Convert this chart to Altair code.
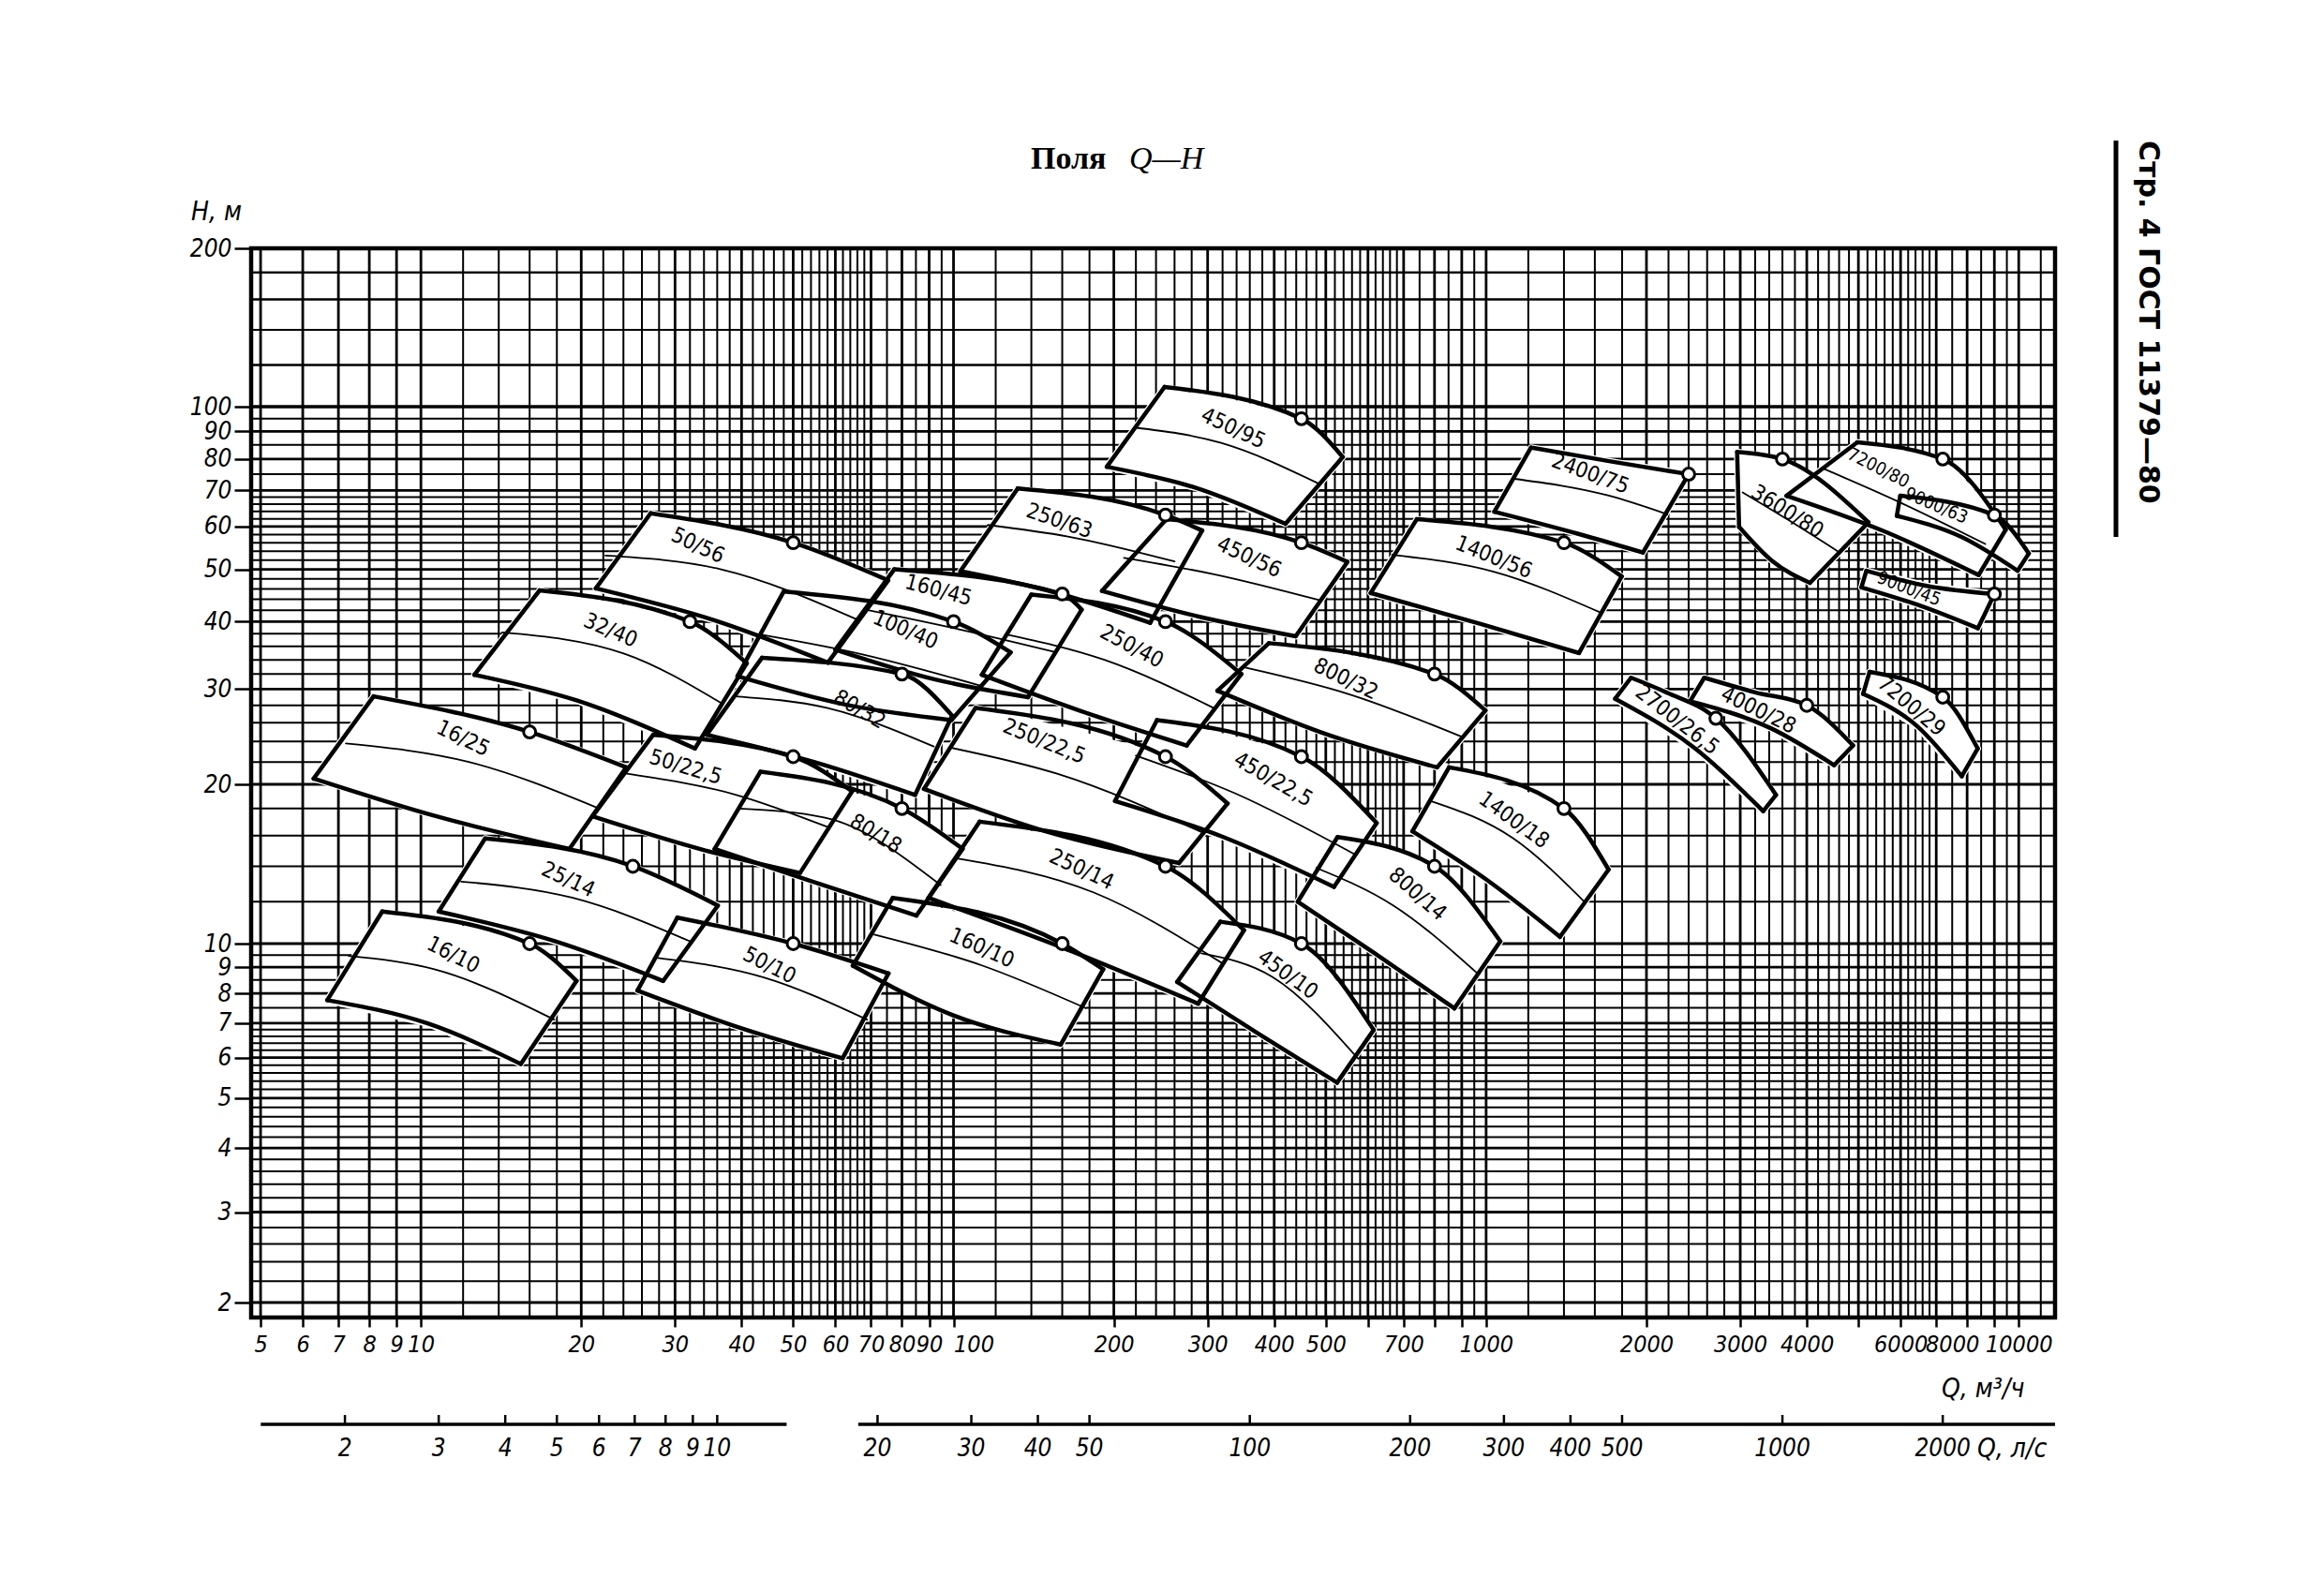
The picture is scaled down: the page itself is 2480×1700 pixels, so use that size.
import altair as alt
import pandas as pd

# ---------------------------------------------------------------- data
FIELDS = ["16/10", "25/14", "16/25", "32/40", "50/56", "250/63", "450/95", "450/56",
          "1400/56", "2400/75", "800/32", "1400/18", "800/14", "450/10", "250/14",
          "160/10", "50/10", "50/22,5", "80/18", "80/32", "250/22,5", "450/22,5",
          "100/40", "160/45", "250/40", "3600/80", "7200/80", "9000/63", "9000/45",
          "7200/29", "4000/28", "2700/26,5"]

# nominal (rated) points Q, m3/h and H, m  -> small circles
NOMINAL_Q = [16, 25, 16, 32, 50, 250, 450, 450, 1400, 2400, 800, 1400, 800, 450, 250,
             160, 50, 50, 80, 80, 250, 450, 100, 160, 250, 3600, 7200, 9000, 9000,
             7200, 4000, 2700]
NOMINAL_H = [10, 14, 25, 40, 56, 63, 95, 56, 56, 75, 32, 18, 14, 10, 14,
             10, 10, 22.5, 18, 32, 22.5, 22.5, 40, 45, 40, 80, 80, 63, 45,
             29, 28, 26.5]

# upper boundary (largest impeller) of each field, (Q, H)
TOP = [
    [(8.46, 11.5), (16, 10), (19.6, 8.46)],
    [(13.2, 15.8), (25, 14), (36.1, 11.8)],
    [(8.15, 29.1), (16, 25), (24.3, 21.5)],
    [(16.7, 45.7), (32, 40), (40.9, 33.5)],
    [(27.0, 63.5), (50, 56), (75.4, 47.7)],
    [(132, 70.6), (250, 63), (293, 59.0)],
    [(249, 109), (450, 95), (538, 80.7)],
    [(251, 61.9), (450, 56), (549, 51.6)],
    [(741, 61.9), (1400, 56), (1797, 48.5)],
    [(1214, 84.0), (1712, 79.2), (2400, 75)],
    [(391, 36.5), (800, 32), (997, 27.4)],
    [(852, 21.5), (1400, 18), (1698, 13.8)],
    [(526, 15.9), (800, 14), (1063, 10.1)],
    [(317, 11.0), (450, 10), (615, 6.79)],
    [(112, 17.0), (250, 14), (351, 10.6)],
    [(76.9, 12.2), (160, 10), (191, 8.91)],
    [(30.3, 11.2), (50, 10), (75.5, 8.75)],
    [(27.3, 24.7), (50, 22.5), (64.5, 19.4)],
    [(43.4, 21.1), (80, 18), (104, 15.1)],
    [(43.7, 34.3), (80, 32), (99.4, 26.8)],
    [(110, 27.7), (250, 22.5), (327, 18.4)],
    [(241, 26.3), (450, 22.5), (623, 16.9)],
    [(48.0, 45.5), (100, 40), (128, 35.1)],
    [(77.4, 50.0), (160, 45), (174, 42.1)],
    [(140, 44.9), (250, 40), (347, 32.0)],
    [(2960, 82.5), (3600, 80), (5222, 61.1)],
    [(4977, 85.9), (7200, 80), (9452, 59.2)],
    [(5992, 68.4), (9000, 63), (10445, 53.5)],
    [(5175, 49.7), (6718, 46.6), (9000, 45)],
    [(5248, 32.3), (7200, 29), (8375, 23.3)],
    [(2568, 31.5), (3199, 29.6), (4000, 28), (4886, 23.6)],
    [(1871, 31.5), (2179, 29.6), (2700, 26.5), (3501, 19.1)],
]

# lower boundary (most trimmed impeller)
BOTTOM = [
    [(6.67, 7.76), (10.3, 6.99), (15.4, 5.83)],
    [(10.8, 11.5), (17.9, 10.1), (28.5, 8.46)],
    [(6.29, 20.5), (10.7, 17.4), (19.0, 15.1)],
    [(12.6, 31.9), (19.6, 28.6), (32.7, 23.3)],
    [(21.3, 46.1), (35.4, 40.3), (58.1, 33.6)],
    [(103, 49.6), (155, 45.3), (234, 39.8)],
    [(194, 77.4), (286, 70.7), (420, 60.7)],
    [(190, 45.6), (291, 40.8), (439, 37.6)],
    [(607, 45.2), (977, 39.6), (1494, 35.0)],
    [(1036, 63.9), (1485, 58.2), (1970, 53.7)],
    [(313, 29.8), (499, 24.8), (809, 21.5)],
    [(727, 16.3), (1013, 13.1), (1376, 10.3)],
    [(443, 12.0), (618, 9.57), (872, 7.48)],
    [(263, 8.42), (376, 6.65), (525, 5.36)],
    [(89.7, 12.2), (161, 9.80), (288, 7.64)],
    [(64.7, 9.06), (99.2, 7.27), (159, 6.36)],
    [(25.5, 8.10), (39.5, 6.87), (61.9, 5.98)],
    [(21.0, 17.4), (34.2, 15.0), (51.5, 13.6)],
    [(35.6, 15.1), (54.4, 13.1), (85.2, 11.3)],
    [(34.4, 24.7), (54.7, 22.0), (84.7, 19.1)],
    [(88.0, 19.6), (152, 16.2), (265, 14.2)],
    [(201, 18.6), (321, 15.9), (518, 12.8)],
    [(39.3, 31.7), (62.6, 28.1), (99.1, 26.3)],
    [(60.0, 35.5), (92.0, 31.3), (138, 29.0)],
    [(113, 31.9), (174, 27.3), (274, 23.6)],
    [(2985, 59.9), (3437, 51.9), (4055, 47.2)],
    [(3664, 68.4), (5564, 58.9), (8408, 48.8)],
    [(5904, 62.8), (7808, 57.4), (9954, 49.7)],
    [(5066, 46.3), (6497, 42.9), (8381, 38.9)],
    [(5102, 29.4), (6451, 25.6), (7816, 20.7)],
    [(2414, 28.5), (3423, 25.4), (4501, 21.7)],
    [(1747, 28.8), (2469, 23.3), (3313, 17.8)],
]

# intermediate impeller curve (thin line), empty where there is none
MIDDLE = [
    [(7.32, 9.46), (10.6, 8.91), (17.8, 7.11)],
    [(11.9, 13.1), (19.3, 12.2), (32.3, 10.06)],
    [(7.23, 23.8), (12.3, 22.0), (21.6, 18.0)],
    [(14.2, 38.2), (24.1, 34.9), (36.8, 28.2)],
    [(22.2, 53.0), (36.6, 50.0), (66.2, 40.3)],
    [(116, 60.4), (164, 57.5), (260, 51.7)],
    [(219, 91.5), (318, 85.7), (484, 72.1)],
    [(209, 52.5), (307, 49.0), (488, 43.8)],
    [(666, 53.2), (1033, 49.5), (1639, 41.6)],
    [(1121, 73.6), (1693, 68.5), (2189, 63.2)],
    [(353, 32.9), (551, 29.4), (899, 24.5)],
    [(787, 18.6), (1125, 15.8), (1529, 12.0)],
    [(480, 13.9), (670, 11.8), (969, 8.70)],
    [(292, 9.57), (398, 8.60), (575, 5.97)],
    [(101, 14.5), (183, 12.5), (319, 9.17)],
    [(71.0, 10.4), (113, 9.07), (177, 7.49)],
    [(27.7, 9.38), (43.9, 8.60), (68.8, 7.11)],
    [(23.9, 21.0), (39.1, 19.1), (58.1, 16.6)],
    [(39.5, 18.0), (57.4, 17.3), (94.6, 12.9)],
    [(38.8, 29.1), (57.8, 27.7), (91.8, 23.5)],
    [(98.3, 23.4), (157, 20.9), (294, 16.2)],
    [(220, 22.6), (339, 19.2), (570, 14.7)],
    [(43.1, 37.9), (64.8, 35.1), (113, 30.4)],
    [(68.4, 42.1), (101.5, 38.8), (156, 35.1)],
    [(125, 37.9), (192, 34.0), (310, 27.6)],
    [(3031, 69.4), (3673, 61.9), (4585, 53.9)],
    [(4310, 76.7), (5946, 66.7), (8653, 55.7)],
    [], [], [], [], [],
]

LABEL_Q = [11.5, 18.9, 12.0, 22.7, 33.1, 158, 335, 359, 1033, 1569, 545, 1127, 743, 424,
           174, 113, 45.1, 31.4, 71.4, 66.6, 148, 398, 81.2, 93.7, 216, 3675, 5450, 7000,
           6222, 6285, 3244, 2284]
LABEL_H = [9.5, 13.2, 24.3, 38.5, 55.3, 61.4, 91.1, 52.6, 52.6, 75.1, 31.3, 17.1, 12.4, 8.70,
           13.8, 9.8, 9.06, 21.5, 16.1, 27.5, 24.0, 20.4, 38.6, 45.7, 36.0, 63.9, 77.0, 65.6,
           46.0, 27.9, 27.4, 26.3]
LABEL_ANGLE = [27, 25, 26, 23, 25, 19, 25, 25, 22, 20, 26, 36, 41, 36, 25, 24, 27, 17, 31,
               30, 22, 30, 23, 15, 28, 32, 27, 23, 21, 40, 26, 38]
SMALL_LABELS = ["7200/80", "9000/63", "9000/45"]

# axes
X_TICKS = [5, 6, 7, 8, 9, 10, 20, 30, 40, 50, 60, 70, 80, 90, 100, 200, 300, 400, 500, 600,
           700, 800, 900, 1000, 2000, 3000, 4000, 5000, 6000, 7000, 8000, 9000, 10000]
X_LABELS = [5, 6, 7, 8, 9, 10, 20, 30, 40, 50, 60, 70, 80, 90, 100, 200, 300, 400, 500,
            700, 1000, 2000, 3000, 4000, 6000, 8000, 10000]
Y_TICKS = [2, 3, 4, 5, 6, 7, 8, 9, 10, 20, 30, 40, 50, 60, 70, 80, 90, 100, 200]

# secondary flow scale in l/s
LS_TICKS = [2, 3, 4, 5, 6, 7, 8, 9, 10, 20, 30, 40, 50, 100, 200, 300, 400, 500, 1000, 2000]
LS_SEGMENTS = [(1.39, 13.5), (18.4, 3250)]
M3H_PER_LS = 3.6


# ---------------------------------------------------------------- grid of the log paper
def steps(a, b, s):
    out, v = [], a
    while v < b - 1e-9:
        out.append(round(v, 3))
        v += s
    return out


X_GRID = [5, 6, 7, 8, 9]
for d in (1, 10, 100):
    X_GRID += [round(v * d, 3) for v in steps(10, 20, 2) + steps(20, 70, 2) + steps(70, 100, 5)]
X_GRID += [10000, 11000]
Y_GRID = []
for d in (1, 10):
    Y_GRID += [round(v * d, 3) for v in steps(2, 7, 0.2) + steps(7, 10, 0.5) + steps(10, 20, 2)]
Y_GRID += [100, 120, 140, 160, 180, 200]


def is_major(v):
    for d in (1, 10, 100, 1000, 10000):
        r = v / d
        if 1 <= r < 10 and abs(r - round(r)) < 1e-6:
            return True
    return False


gx = pd.DataFrame({"Q": X_GRID, "w": [2.8 if is_major(v) else 2.0 for v in X_GRID]})
gy = pd.DataFrame({"H": Y_GRID, "w": [2.8 if is_major(v) else 2.0 for v in Y_GRID]})

# ---------------------------------------------------------------- field tables
fill_rows, line_rows = [], []
for i, name in enumerate(FIELDS):
    top, bot, mid = TOP[i], BOTTOM[i], MIDDLE[i]
    for k, (q, h) in enumerate(top + bot[::-1]):
        fill_rows.append({"fid": name, "k": k, "Q": q, "H": h})
    segs = [("top", top, 4.5), ("bot", bot, 4.5),
            ("left", [top[0], bot[0]], 4.5), ("right", [top[-1], bot[-1]], 4.5)]
    if mid:
        segs.append(("mid", mid, 1.8))
    for part, pts, w in segs:
        for k, (q, h) in enumerate(pts):
            line_rows.append({"seg": f"{name}|{part}", "k": k, "Q": q, "H": h, "w": w})
fills = pd.DataFrame(fill_rows)
lines = pd.DataFrame(line_rows)
nominal = pd.DataFrame({"Q": NOMINAL_Q, "H": NOMINAL_H})
labels = pd.DataFrame({"Q": LABEL_Q, "H": LABEL_H, "t": FIELDS, "a": LABEL_ANGLE,
                       "fs": [19 if f in SMALL_LABELS else 23 for f in FIELDS]})

ls_seg = pd.DataFrame({"Q": [a * M3H_PER_LS for a, b in LS_SEGMENTS],
                       "Q2": [b * M3H_PER_LS for a, b in LS_SEGMENTS]})
ls_tick = pd.DataFrame({"Q": [v * M3H_PER_LS for v in LS_TICKS], "t": [str(v) for v in LS_TICKS]})

# ---------------------------------------------------------------- chart
W, H = 1925, 1141
FONT = "Liberation Sans Narrow, DejaVu Sans Condensed, Roboto Condensed, DejaVu Sans, sans-serif"
XS = alt.Scale(type="log", domain=[4.8, 11700], nice=False)
# the printed log paper is not quite uniform: piecewise log scale pinned at the printed decades
YS = alt.Scale(type="log", domain=[1.88, 2, 10, 20, 100, 200],
               range=[1141, 1125, 742, 572, 169, 0], nice=False)
lab_list = ",".join(str(v) for v in X_LABELS)
XAX = alt.Axis(values=X_TICKS, format="d", title=None, grid=False, domain=False,
               labelExpr=f"indexof([{lab_list}], datum.value) >= 0 ? datum.label : ''",
               labelAlign=alt.condition("datum.value == 100", alt.value("left"), alt.value("center")),
               labelOffset=alt.condition("datum.value == 8000", alt.value(-16), alt.value(0)),
               tickSize=10, tickWidth=2.5, tickColor="black", labelPadding=6,
               labelFont=FONT, labelFontSize=25, labelFontStyle="italic", labelColor="black",
               labelOverlap=False, labelFlush=False)
YAX = alt.Axis(values=Y_TICKS, format="d", title=None, grid=False, domain=False,
               tickSize=18, tickWidth=2.5, tickColor="black", labelPadding=3,
               labelFont=FONT, labelFontSize=26, labelFontStyle="italic", labelColor="black",
               labelOverlap=False, labelFlush=False)
X = alt.X("Q:Q", scale=XS, axis=XAX)
Y = alt.Y("H:Q", scale=YS, axis=YAX)

grid_v = alt.Chart(gx).mark_rule(color="black").encode(
    x=X, strokeWidth=alt.StrokeWidth("w:Q", scale=None))
grid_h = alt.Chart(gy).mark_rule(color="black").encode(
    y=Y, strokeWidth=alt.StrokeWidth("w:Q", scale=None))

field_fill = alt.Chart(fills).mark_line(
    interpolate="linear-closed", filled=True, color="white", fill="white",
    stroke="white", strokeWidth=7, strokeJoin="round").encode(
    x=X, y=Y, detail="fid:N", order="k:Q")

field_lines = alt.Chart(lines).mark_line(
    interpolate="monotone", color="black", strokeCap="round", strokeJoin="round").encode(
    x=X, y=Y, detail="seg:N", order="k:Q", strokeWidth=alt.StrokeWidth("w:Q", scale=None))

points = alt.Chart(nominal).mark_point(
    shape="circle", filled=True, fill="white", stroke="black", strokeWidth=3,
    size=165, opacity=1).encode(x=X, y=Y)

field_text = alt.Chart(labels).mark_text(
    font=FONT, align="center", baseline="middle", color="black").encode(
    x=X, y=Y, text="t:N", angle=alt.Angle("a:Q", scale=None),
    size=alt.Size("fs:Q", scale=None))

# secondary (l/s) scale below the chart
ls_line = alt.Chart(ls_seg).mark_rule(color="black", strokeWidth=3.5).encode(
    x=X, x2="Q2:Q", y=alt.value(1255))
ls_ticks = alt.Chart(ls_tick).mark_rule(color="black", strokeWidth=2.5).encode(
    x=X, y=alt.value(1245), y2=alt.value(1255))
ls_text = alt.Chart(ls_tick).mark_text(
    font=FONT, fontSize=26, fontStyle="italic", baseline="middle", color="black").encode(
    x=X, y=alt.value(1281), text="t:N")


def note(txt, x, y, **kw):
    return alt.Chart(pd.DataFrame({"t": [txt]})).mark_text(color="black", **kw).encode(
        x=alt.value(x), y=alt.value(y), text="t:N")


t_q_m3 = note("Q, м³/ч", 1804, 1218, font=FONT, fontSize=28, fontStyle="italic",
              align="left", baseline="middle")
t_q_ls = note("Q, л/с", 1842, 1282, font=FONT, fontSize=28, fontStyle="italic",
              align="left", baseline="middle")
t_h = note("H, м", -64, -30, font=FONT, fontSize=28, fontStyle="italic", align="left",
           baseline="alphabetic")
t_title1 = note("Поля", 832, -85, font="Liberation Serif, DejaVu Serif, serif", fontSize=34,
                fontWeight="bold", align="left", baseline="alphabetic")
t_title2 = note("Q—H", 937, -85, font="Liberation Serif, DejaVu Serif, serif", fontSize=34,
                fontStyle="italic", align="left", baseline="alphabetic")
t_side = note("Стр. 4 ГОСТ 11379—80", 2024, -115, font="DejaVu Sans, Liberation Sans, sans-serif",
              fontSize=30, fontWeight="bold", angle=90, align="left", baseline="middle")
side_rule = alt.Chart(pd.DataFrame({"t": [0]})).mark_rule(color="black", strokeWidth=5).encode(
    x=alt.value(1990), y=alt.value(-115), y2=alt.value(308))

chart = alt.layer(
    grid_v, grid_h, field_fill, field_lines, points, field_text,
    ls_line, ls_ticks, ls_text, t_q_m3, t_q_ls, t_h, t_title1, t_title2, t_side, side_rule
).properties(
    width=W, height=H,
    autosize=alt.AutoSizeParams(type="none"),
    padding={"left": 260, "top": 257, "right": 200, "bottom": 250},
    background="white",
).configure_view(stroke="black", strokeWidth=4.5)

chart.save("out.html", embed_options={"renderer": "svg", "actions": False})
